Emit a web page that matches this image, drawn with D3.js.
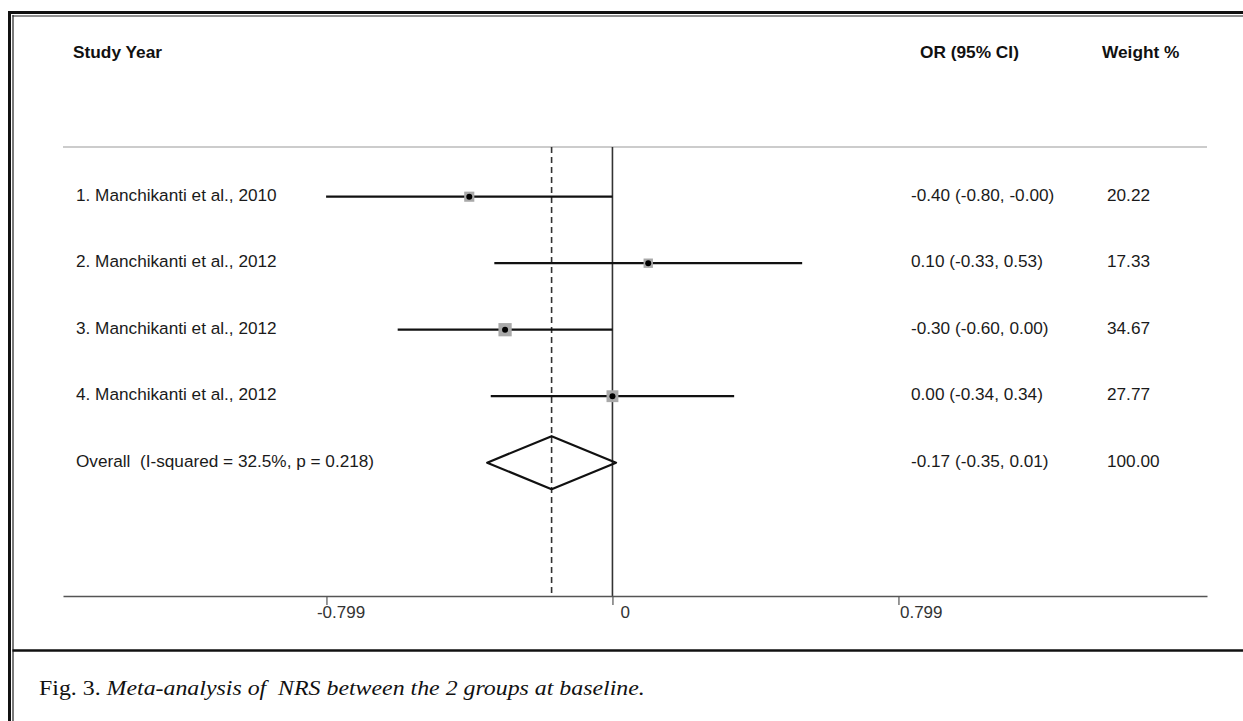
<!DOCTYPE html>
<html>
<head>
<meta charset="utf-8">
<script src="https://cdn.jsdelivr.net/npm/d3@7"></script>
<style>
  html, body { margin: 0; padding: 0; background: #fff; }
  svg { display: block; }
  text { white-space: pre; }
</style>
</head>
<body>
<script>
// forest plot data
const studies = [
  "1. Manchikanti et al., 2010",
  "2. Manchikanti et al., 2012",
  "3. Manchikanti et al., 2012",
  "4. Manchikanti et al., 2012"
];
const estimates = [-0.40, 0.10, -0.30, 0.00];
const lower = [-0.80, -0.33, -0.60, -0.34];
const upper = [-0.00, 0.53, 0.00, 0.34];
const weights = [20.22, 17.33, 34.67, 27.77];
const orLabels = [
  "-0.40 (-0.80, -0.00)",
  "0.10 (-0.33, 0.53)",
  "-0.30 (-0.60, 0.00)",
  "0.00 (-0.34, 0.34)"
];
const weightLabels = ["20.22", "17.33", "34.67", "27.77"];

const overallLabel = "Overall  (I-squared = 32.5%, p = 0.218)";
const overallEst = -0.17;
const overallLower = -0.35;
const overallUpper = 0.01;
const overallOR = "-0.17 (-0.35, 0.01)";
const overallWeight = "100.00";

const tickValues = [-0.799, 0, 0.799];
const tickLabels = ["-0.799", "0", "0.799"];

const W = 1243, H = 721;
const font = "'Liberation Sans', Arial, sans-serif";

const svg = d3.select("body").append("svg")
  .attr("width", W)
  .attr("height", H);

// frame
const frame = svg.append("g");
frame.append("line").attr("x1", 9.5).attr("x2", 9.5).attr("y1", 11).attr("y2", H)
  .attr("stroke", "#111").attr("stroke-width", 3);
frame.append("line").attr("x1", 13).attr("x2", 13).attr("y1", 15).attr("y2", H)
  .attr("stroke", "#222").attr("stroke-width", 1.2);
frame.append("line").attr("x1", 8).attr("x2", W).attr("y1", 12.5).attr("y2", 12.5)
  .attr("stroke", "#111").attr("stroke-width", 3);
frame.append("line").attr("x1", 12.5).attr("x2", W).attr("y1", 16).attr("y2", 16)
  .attr("stroke", "#222").attr("stroke-width", 1.2);
frame.append("line").attr("x1", 12.5).attr("x2", W).attr("y1", 650.5).attr("y2", 650.5)
  .attr("stroke", "#111").attr("stroke-width", 2.5);

const x = d3.scaleLinear().domain([-1.535, 1.661]).range([63, 1207]);
const y = d3.scaleLinear().domain([0, 4]).range([196.7, 462.7]);

const topY = 147, axisY = 596;

// headers
svg.append("text").attr("x", 73).attr("y", 58)
  .attr("font-family", font).attr("font-size", 17.3).attr("font-weight", "bold")
  .attr("fill", "#111").text("Study Year");
svg.append("text").attr("x", 920).attr("y", 58)
  .attr("font-family", font).attr("font-size", 17.3).attr("font-weight", "bold")
  .attr("fill", "#111").text("OR (95% CI)");
svg.append("text").attr("x", 1102).attr("y", 58)
  .attr("font-family", font).attr("font-size", 17.3).attr("font-weight", "bold")
  .attr("fill", "#111").text("Weight %");

// separator under header
svg.append("line").attr("x1", 63).attr("x2", 1207).attr("y1", topY).attr("y2", topY)
  .attr("stroke", "#bbb").attr("stroke-width", 1.6);

// reference lines
svg.append("line").attr("x1", x(0)).attr("x2", x(0)).attr("y1", topY).attr("y2", axisY)
  .attr("stroke", "#333").attr("stroke-width", 1.6);
svg.append("line").attr("x1", x(overallEst)).attr("x2", x(overallEst)).attr("y1", topY).attr("y2", axisY)
  .attr("stroke", "#333").attr("stroke-width", 1.6).attr("stroke-dasharray", "6,4");

// axis
const axis = d3.axisBottom(x).tickValues(tickValues).tickSize(9).tickSizeOuter(0)
  .tickFormat((d, i) => tickLabels[i]);
const gx = svg.append("g").attr("transform", `translate(0,${axisY})`).call(axis);
gx.select(".domain").attr("stroke", "#555").attr("stroke-width", 1.6);
gx.selectAll(".tick line").attr("stroke", "#555").attr("stroke-width", 1.2);
const tickDx = [-10, 7.5, 1];
gx.selectAll(".tick text")
  .attr("font-family", font).attr("font-size", 17).attr("fill", "#333")
  .attr("text-anchor", "start")
  .attr("y", 22).attr("dy", 0)
  .attr("dx", (d, i) => tickDx[i]);

// study rows
const rows = svg.append("g").selectAll("g").data(studies).join("g");

rows.append("text")
  .attr("x", 76).attr("y", (d, i) => y(i) + 4)
  .attr("font-family", font).attr("font-size", 17.2).attr("fill", "#1a1a1a")
  .text(d => d);

rows.append("line")
  .attr("x1", (d, i) => x(lower[i])).attr("x2", (d, i) => x(upper[i]))
  .attr("y1", (d, i) => y(i)).attr("y2", (d, i) => y(i))
  .attr("stroke", "#111").attr("stroke-width", 2.2);

const boxSize = w => 2.25 * Math.sqrt(w);
rows.append("rect")
  .attr("x", (d, i) => x(estimates[i]) - boxSize(weights[i]) / 2)
  .attr("y", (d, i) => y(i) - boxSize(weights[i]) / 2)
  .attr("width", (d, i) => boxSize(weights[i]))
  .attr("height", (d, i) => boxSize(weights[i]))
  .attr("fill", "#a9a9a9");

rows.append("circle")
  .attr("cx", (d, i) => x(estimates[i])).attr("cy", (d, i) => y(i))
  .attr("r", 3).attr("fill", "#000");

rows.append("text")
  .attr("x", 911).attr("y", (d, i) => y(i) + 4)
  .attr("font-family", font).attr("font-size", 17.2).attr("fill", "#1a1a1a")
  .text((d, i) => orLabels[i]);

rows.append("text")
  .attr("x", 1107).attr("y", (d, i) => y(i) + 4)
  .attr("font-family", font).attr("font-size", 17.2).attr("fill", "#1a1a1a")
  .text((d, i) => weightLabels[i]);

// overall row
const oy = y(4);
svg.append("text").attr("x", 76).attr("y", oy + 4)
  .attr("font-family", font).attr("font-size", 17.2).attr("fill", "#1a1a1a")
  .text(overallLabel);
svg.append("path")
  .attr("d", d3.line()([
    [x(overallLower), oy],
    [x(overallEst), oy - 26.5],
    [x(overallUpper), oy],
    [x(overallEst), oy + 26.5]
  ]) + "Z")
  .attr("fill", "none").attr("stroke", "#111").attr("stroke-width", 2.2)
  .attr("stroke-linejoin", "round");
svg.append("text").attr("x", 911).attr("y", oy + 4)
  .attr("font-family", font).attr("font-size", 17.2).attr("fill", "#1a1a1a")
  .text(overallOR);
svg.append("text").attr("x", 1107).attr("y", oy + 4)
  .attr("font-family", font).attr("font-size", 17.2).attr("fill", "#1a1a1a")
  .text(overallWeight);

// caption: taller, condensed serif like the original
const cap = svg.append("text").attr("x", 0).attr("y", 0)
  .attr("font-family", "'Liberation Serif', 'Times New Roman', serif")
  .attr("font-size", 22).attr("fill", "#111");
cap.append("tspan").text("Fig. 3. ");
cap.append("tspan").attr("font-style", "italic")
  .text("Meta-analysis of  NRS between the 2 groups at baseline.");
const capLen = cap.node().getComputedTextLength();
cap.attr("transform", `translate(39,695) scale(${606 / capLen},1)`);
</script>
</body>
</html>
